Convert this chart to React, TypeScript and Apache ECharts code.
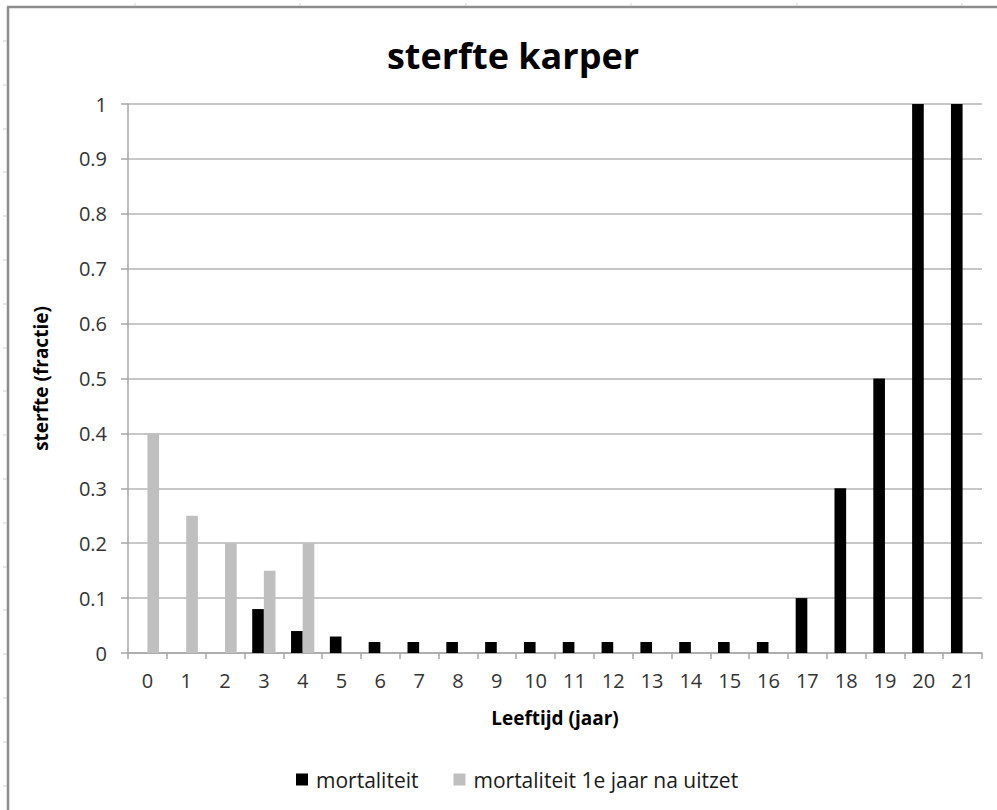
import React, { useEffect, useRef } from "react";
import * as echarts from "echarts";

const categories = ["0","1","2","3","4","5","6","7","8","9","10","11","12","13","14","15","16","17","18","19","20","21"];
const mortaliteit = [0, 0, 0, 0.08, 0.04, 0.03, 0.02, 0.02, 0.02, 0.02, 0.02, 0.02, 0.02, 0.02, 0.02, 0.02, 0.02, 0.1, 0.3, 0.5, 1, 1];
const mortaliteitUitzet = [0.4, 0.25, 0.2, 0.15, 0.2, 0, 0, 0, 0, 0, 0, 0, 0, 0, 0, 0, 0, 0, 0, 0, 0, 0];
const seriesNames = ["mortaliteit", "mortaliteit 1e jaar na uitzet"];
const titleText = "sterfte karper";
const yAxisTitle = "sterfte (fractie)";
const xAxisTitle = "Leeftijd (jaar)";

const FONT = "'Open Sans', sans-serif";

export default function App() {
  const ref = useRef<HTMLDivElement>(null);
  useEffect(() => {
    document.body.style.margin = "0";
    const chart = echarts.init(ref.current!, null, { renderer: "svg" });
    const frameTicks: any[] = [];
    for (let y = 41; y < 810; y += 43.8) {
      frameTicks.push({ type: "line", shape: { x1: 3, y1: Math.round(y), x2: 7, y2: Math.round(y) }, style: { stroke: "#d0d0d0", lineWidth: 1 }, silent: true });
    }
    for (let x = 135; x < 997; x += 165.4) {
      frameTicks.push({ type: "line", shape: { x1: Math.round(x), y1: 3, x2: Math.round(x), y2: 6 }, style: { stroke: "#d0d0d0", lineWidth: 1 }, silent: true });
    }
    chart.setOption({
      animation: false,
      backgroundColor: "#ffffff",
      textStyle: { fontFamily: FONT },
      title: {
        text: titleText,
        left: 508,
        textAlign: "center",
        top: 32,
        textStyle: { fontFamily: FONT, fontWeight: "bold", fontSize: 36, color: "#000" },
      },
      grid: { left: 128, right: 15, top: 104, bottom: 157, containLabel: false },
      legend: {
        data: seriesNames,
        left: 291,
        top: 764,
        icon: "rect",
        itemWidth: 12,
        itemHeight: 12,
        itemGap: 35,
        textStyle: { fontFamily: FONT, fontSize: 21, color: "#1a1a1a", padding: [0, 0, 0, 3] },
      },
      xAxis: {
        type: "category",
        data: categories,
        name: xAxisTitle,
        nameLocation: "middle",
        nameGap: 55,
        nameTextStyle: { fontFamily: FONT, fontWeight: "bold", fontSize: 19, color: "#000" },
        axisLine: { lineStyle: { color: "#a6a6a6", width: 1.5 } },
        axisTick: { show: true, length: 6, interval: 0, lineStyle: { color: "#a6a6a6", width: 1.5 } },
        axisLabel: { interval: 0, margin: 17, fontSize: 20, lineHeight: 20, color: "#333", fontFamily: FONT },
      },
      yAxis: {
        type: "value",
        min: 0,
        max: 1,
        interval: 0.1,
        name: yAxisTitle,
        nameLocation: "middle",
        nameGap: 78,
        nameTextStyle: { fontFamily: FONT, fontWeight: "bold", fontSize: 19, color: "#000" },
        axisLine: { show: true, lineStyle: { color: "#a6a6a6", width: 1.5 } },
        axisTick: { show: true, length: 7, lineStyle: { color: "#a6a6a6", width: 1.5 } },
        axisLabel: {
          margin: 21,
          fontSize: 20,
          color: "#333",
          fontFamily: FONT,
          formatter: (v: number) => String(Math.round(v * 10) / 10),
        },
        splitLine: { lineStyle: { color: "#b5b5b5", width: 1.5 } },
      },
      series: [
        {
          name: seriesNames[0],
          type: "bar",
          data: mortaliteit,
          itemStyle: { color: "#000000" },
          barGap: "0%",
          barCategoryGap: "40%",
        },
        {
          name: seriesNames[1],
          type: "bar",
          data: mortaliteitUitzet,
          itemStyle: { color: "#bfbfbf" },
          barGap: "0%",
          barCategoryGap: "40%",
        },
      ],
      graphic: [
        { type: "line", shape: { x1: 8, y1: 7, x2: 8, y2: 810 }, style: { stroke: "#8c8c8c", lineWidth: 2.5 }, silent: true },
        { type: "line", shape: { x1: 7, y1: 7, x2: 997, y2: 7 }, style: { stroke: "#8c8c8c", lineWidth: 2.5 }, silent: true },
        ...frameTicks,
      ],
    });
    return () => chart.dispose();
  }, []);
  return <div ref={ref} style={{ position: "fixed", left: 0, top: 0, width: 997, height: 810 }} />;
}
